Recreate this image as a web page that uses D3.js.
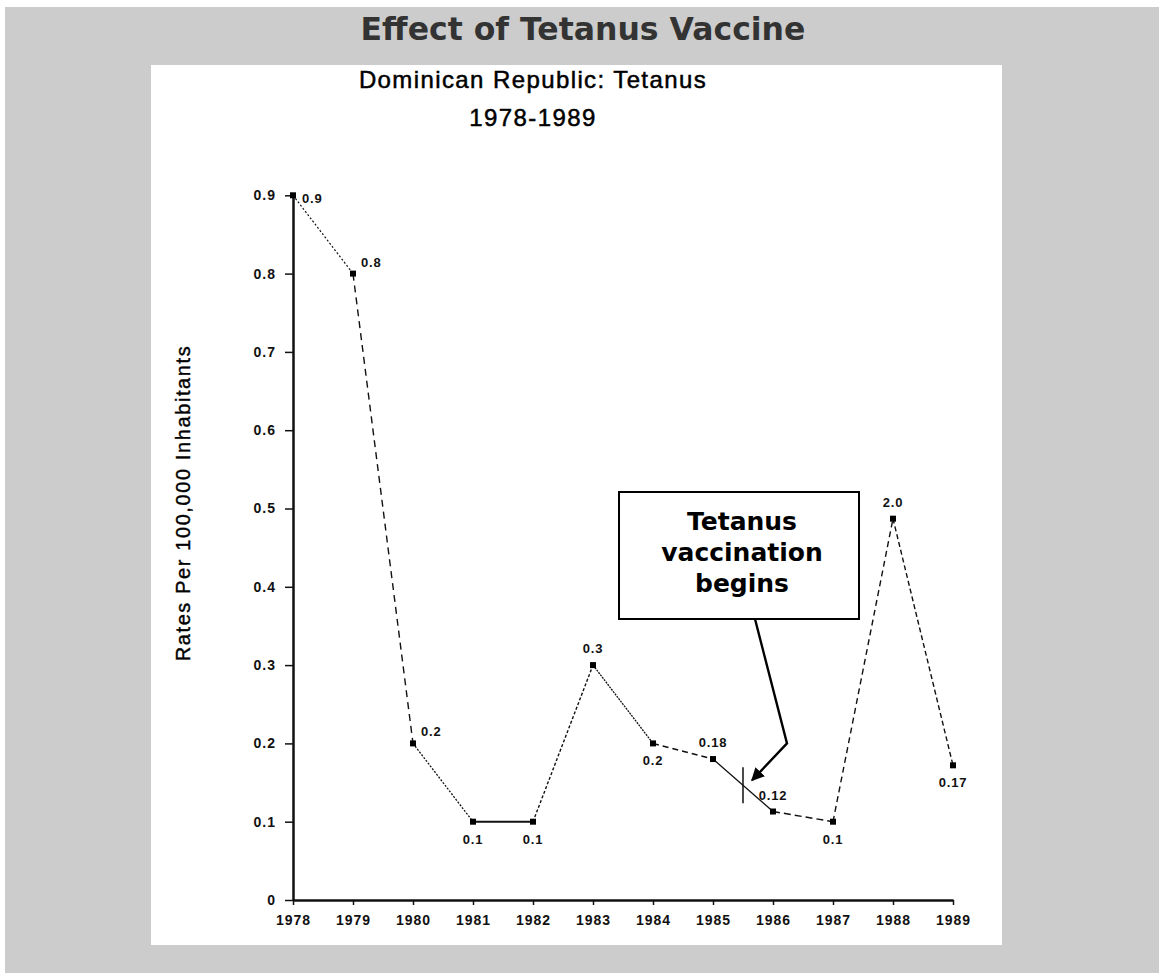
<!DOCTYPE html>
<html>
<head>
<meta charset="utf-8">
<script src="https://cdn.jsdelivr.net/npm/d3@7"></script>
<style>
body { margin: 0; background: #fff; }
svg { display: block; }
</style>
</head>
<body>
<div id="chart"></div>
<script>
var w = 1159;
var h = 973;

// data
var years = [1978, 1979, 1980, 1981, 1982, 1983, 1984, 1985, 1986, 1987, 1988, 1989];
var rates = [0.9, 0.8, 0.2, 0.1, 0.1, 0.3, 0.2, 0.18, 0.113, 0.1, 0.487, 0.172];
var rateLabels = ["0.9", "0.8", "0.2", "0.1", "0.1", "0.3", "0.2", "0.18", "0.12", "0.1", "2.0", "0.17"];
var labelSide = ["right", "upright", "upright", "below", "below", "above", "below", "above", "above", "below", "above", "below"];
var yTicks = [0, 0.1, 0.2, 0.3, 0.4, 0.5, 0.6, 0.7, 0.8, 0.9];
var vaccineYear = 1985.5;
var noteLines = ["Tetanus", "vaccination", "begins"];

// line style of each segment (the original mixes dotted / dashed)
var segDash = ["2,2", "7,5", "2,1.5", null, "3,2", "2,1", "6,4", null, "7,4", "6,4", "5,3"];
var segWidth = [1.2, 1.4, 1.3, 2, 1.4, 1.3, 1.6, 1.3, 1.5, 1.4, 1.4];

var svg = d3.select("#chart")
          .append("svg")
          .attr("width", w)
          .attr("height", h);

// grey page + white picture
svg.append("rect").attr("x", 5).attr("y", 7).attr("width", w).attr("height", h)
   .style("fill", "#cccccc");
svg.append("rect").attr("x", 151).attr("y", 65).attr("width", 851).attr("height", 880)
   .style("fill", "#fff");

svg.append("text")
   .attr("x", 583).attr("y", 40)
   .style("text-anchor", "middle")
   .style("font-family", "'DejaVu Sans', Verdana, sans-serif")
   .style("font-weight", "bold")
   .style("font-size", "31.5px")
   .style("fill", "#333")
   .text("Effect of Tetanus Vaccine");

var sub = svg.append("g")
   .style("font-family", "'Liberation Sans', Arial, sans-serif")
   .style("font-size", "24px")
   .style("letter-spacing", "1.4px")
   .style("fill", "#000")
   .style("stroke", "#000")
   .style("stroke-width", 0.5)
   .style("text-anchor", "middle");
sub.append("text").attr("x", 533).attr("y", 88).text("Dominican Republic: Tetanus");
sub.append("text").attr("x", 533).attr("y", 126).text("1978-1989");

var x = d3.scaleLinear().domain([1978, 1989]).range([293, 953]);
var y = d3.scaleLinear().domain([0, 0.9]).range([900, 195.3]);

var tickFont = function(g) {
  g.selectAll("text")
   .style("font-family", "'Liberation Sans', Arial, sans-serif")
   .style("font-weight", "bold")
   .style("font-size", "14px")
   .style("letter-spacing", "1px")
   .style("fill", "#111");
  g.selectAll("line").style("stroke", "#111").style("stroke-width", 1.5);
  g.select(".domain").style("stroke", "#111").style("stroke-width", 2.5);
};

svg.append("g")
   .attr("transform", "translate(0,900)")
   .call(d3.axisBottom(x).tickValues(years).tickFormat(d3.format("d"))
         .tickSize(5).tickSizeOuter(0).tickPadding(10))
   .call(tickFont);

svg.append("g")
   .attr("transform", "translate(293,0)")
   .call(d3.axisLeft(y).tickValues(yTicks)
         .tickFormat(function(d) { return d === 0 ? "0" : d3.format(".1f")(d); })
         .tickSize(8).tickSizeOuter(0).tickPadding(9))
   .call(tickFont);

svg.append("text")
   .attr("transform", "translate(190,503) rotate(-90)")
   .style("text-anchor", "middle")
   .style("font-family", "'Liberation Sans', Arial, sans-serif")
   .style("font-size", "20px")
   .style("letter-spacing", "1.6px")
   .style("fill", "#000")
   .style("stroke", "#000")
   .style("stroke-width", 0.4)
   .text("Rates Per 100,000 Inhabitants");

// one segment per year pair, each with its own dash style
var pts = years.map(function(d, i) { return { year: d, rate: rates[i], label: rateLabels[i], side: labelSide[i] }; });
var segs = pts.slice(1).map(function(d, i) { return [pts[i], d]; });

svg.append("g")
   .selectAll("line")
   .data(segs)
   .enter()
   .append("line")
   .attr("x1", function(d) { return x(d[0].year); })
   .attr("y1", function(d) { return y(d[0].rate); })
   .attr("x2", function(d) { return x(d[1].year); })
   .attr("y2", function(d) { return y(d[1].rate); })
   .style("stroke", "#111")
   .style("stroke-width", function(d, i) { return segWidth[i]; })
   .style("stroke-dasharray", function(d, i) { return segDash[i]; });

svg.append("g")
   .selectAll("rect")
   .data(pts)
   .enter()
   .append("rect")
   .attr("x", function(d) { return x(d.year) - 3; })
   .attr("y", function(d) { return y(d.rate) - 3; })
   .attr("width", 6)
   .attr("height", 6)
   .style("fill", "#000");

// value labels
var off = {
  right:   [9, 8, "start"],
  upright: [8, -7, "start"],
  above:   [0, -12, "middle"],
  below:   [0, 22, "middle"]
};
svg.append("g")
   .selectAll("text")
   .data(pts)
   .enter()
   .append("text")
   .attr("x", function(d) { return x(d.year) + off[d.side][0]; })
   .attr("y", function(d) { return y(d.rate) + off[d.side][1]; })
   .style("text-anchor", function(d) { return off[d.side][2]; })
   .style("font-family", "'Liberation Sans', Arial, sans-serif")
   .style("font-weight", "bold")
   .style("font-size", "13px")
   .style("letter-spacing", "0.8px")
   .style("fill", "#111")
   .text(function(d) { return d.label; });

// mark where vaccination starts, on the 1985-1986 segment
var vx = x(vaccineYear);
var vy = y((rates[7] + rates[8]) / 2);
svg.append("line")
   .attr("x1", vx).attr("x2", vx)
   .attr("y1", vy - 18).attr("y2", vy + 18)
   .style("stroke", "#111").style("stroke-width", 1.5);

// annotation box
svg.append("defs").append("marker")
   .attr("id", "head")
   .attr("viewBox", "0 0 10 10")
   .attr("refX", 9).attr("refY", 5)
   .attr("markerWidth", 5.5).attr("markerHeight", 5.5)
   .attr("orient", "auto")
   .append("path")
   .attr("d", "M0,0L10,5L0,10z")
   .style("fill", "#000");

var boxTop = 492, boxH = 127, boxW = 240;
svg.append("path")
   .attr("d", "M" + (vx + 12) + "," + (boxTop + boxH) +
              "L" + (x(1986) + 14) + "," + y(0.2) +
              "L" + (vx + 9) + "," + (vy - 5))
   .style("fill", "none")
   .style("stroke", "#000")
   .style("stroke-width", 2.4)
   .attr("marker-end", "url(#head)");

svg.append("rect")
   .attr("x", vx - 124).attr("y", boxTop)
   .attr("width", boxW).attr("height", boxH)
   .style("fill", "#fff")
   .style("stroke", "#000")
   .style("stroke-width", 2);

svg.append("g")
   .selectAll("text")
   .data(noteLines)
   .enter()
   .append("text")
   .attr("x", vx - 1)
   .attr("y", function(d, i) { return 530 + i * 31; })
   .style("text-anchor", "middle")
   .style("font-family", "'DejaVu Sans', Verdana, sans-serif")
   .style("font-weight", "bold")
   .style("font-size", "25px")
   .style("fill", "#000")
   .text(function(d) { return d; });
</script>
</body>
</html>
